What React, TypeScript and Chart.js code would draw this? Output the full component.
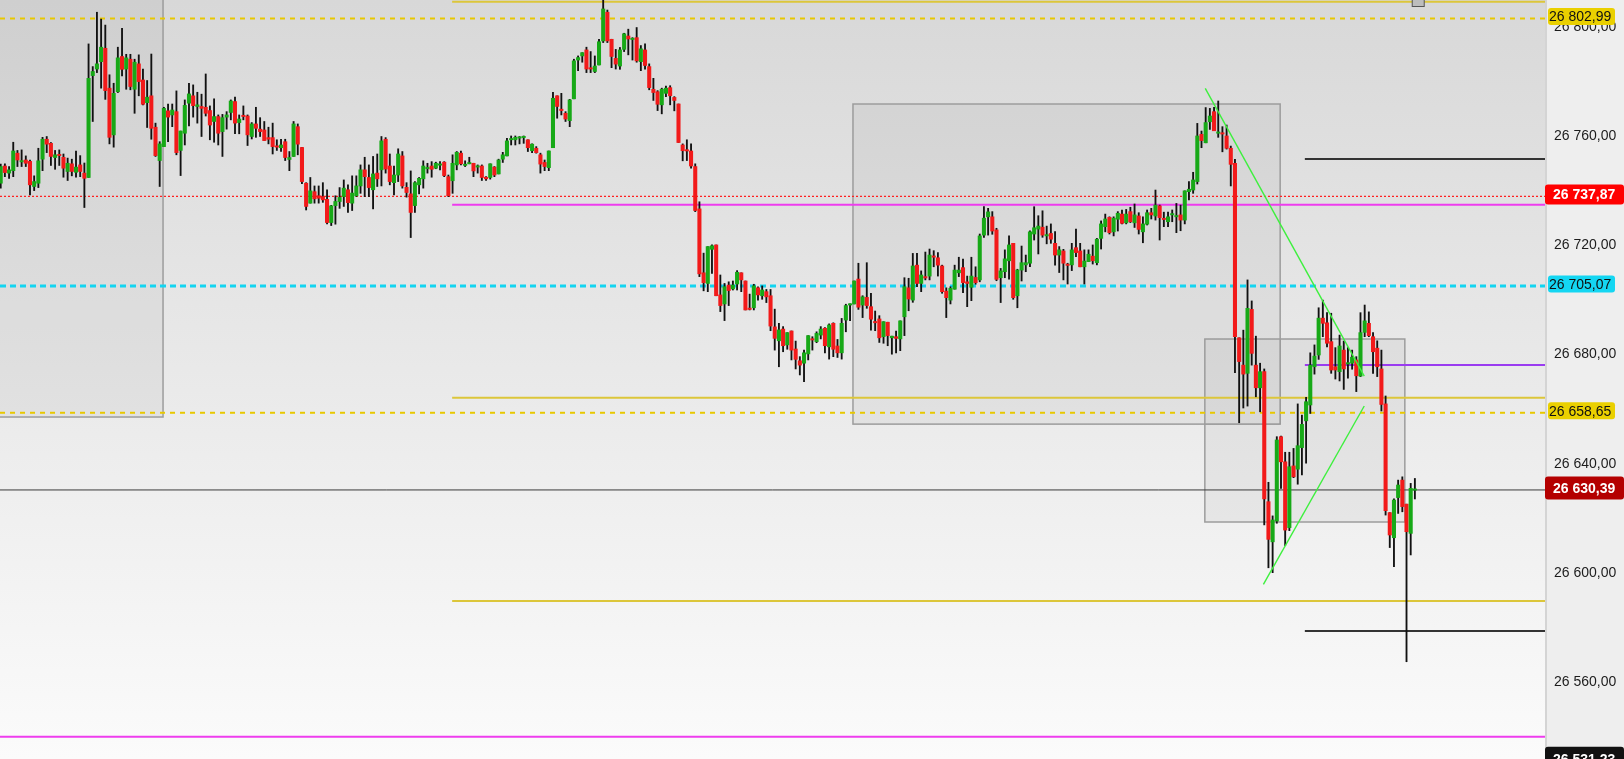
import React, { useEffect, useRef } from "react";
import { Chart, registerables } from "chart.js";
Chart.register(...registerables);

// ---------- candle data (index 0 .. 338) ----------
const opens = [
  26742.7, 26749.0, 26746.4, 26747.3, 26753.7, 26750.5, 26751.2, 26750.7, 26741.5, 26742.7,
  26751.5, 26758.8, 26757.3, 26752.1, 26753.1, 26752.2, 26747.0, 26749.8, 26746.7, 26749.4,
  26746.4, 26744.8, 26782.1, 26784.5, 26787.2, 26792.1, 26777.5, 26760.4, 26776.2, 26789.1,
  26784.5, 26788.1, 26777.1, 26786.4, 26780.5, 26772.2, 26774.7, 26763.2, 26751.0, 26756.1,
  26769.2, 26767.7, 26768.9, 26754.7, 26761.0, 26772.0, 26774.7, 26770.8, 26770.8, 26770.5,
  26769.3, 26765.3, 26767.1, 26761.6, 26766.9, 26768.6, 26772.6, 26764.9, 26767.3, 26767.3,
  26759.8, 26764.4, 26762.5, 26762.2, 26759.4, 26759.4, 26756.1, 26755.7, 26757.9, 26751.4,
  26752.5, 26763.4, 26755.8, 26742.7, 26735.4, 26739.6, 26738.1, 26737.8, 26736.8, 26728.3,
  26734.5, 26736.0, 26737.8, 26740.3, 26735.4, 26738.1, 26741.7, 26747.6, 26744.8, 26740.3,
  26746.4, 26747.6, 26758.8, 26749.0, 26742.9, 26745.7, 26752.7, 26741.2, 26738.8, 26734.5,
  26742.1, 26744.3, 26748.0, 26749.0, 26748.2, 26749.3, 26750.4, 26745.1, 26743.6, 26749.4,
  26753.7, 26749.2, 26749.8, 26750.0, 26748.6, 26749.0, 26744.9, 26744.8, 26748.6, 26746.1,
  26751.5, 26752.7, 26758.6, 26758.6, 26759.2, 26759.4, 26758.6, 26754.6, 26755.5, 26753.1,
  26750.3, 26748.4, 26755.7, 26774.7, 26769.8, 26768.3, 26765.6, 26773.6, 26787.8, 26789.3,
  26791.5, 26784.8, 26783.6, 26786.0, 26794.8, 26805.3, 26795.4, 26788.4, 26785.6, 26791.7,
  26796.6, 26795.3, 26796.0, 26787.2, 26791.5, 26785.4, 26777.1, 26776.2, 26771.4, 26775.6,
  26777.7, 26774.1, 26771.7, 26756.7, 26754.7, 26754.5, 26748.8, 26733.3, 26709.9, 26706.0,
  26718.5, 26720.1, 26701.8, 26698.5, 26705.4, 26704.0, 26705.8, 26709.9, 26706.9, 26696.9,
  26697.1, 26704.4, 26701.5, 26703.0, 26701.5, 26690.1, 26685.0, 26689.3, 26683.5, 26688.6,
  26682.0, 26677.7, 26676.8, 26680.2, 26685.5, 26684.7, 26687.1, 26689.6, 26682.8, 26691.4,
  26683.1, 26680.6, 26692.6, 26698.1, 26698.5, 26707.6, 26698.1, 26700.9, 26697.5, 26691.8,
  26693.0, 26686.5, 26691.8, 26686.1, 26686.5, 26685.7, 26693.8, 26704.4, 26699.9, 26712.7,
  26706.0, 26708.5, 26708.7, 26716.0, 26715.4, 26712.4, 26703.2, 26699.9, 26703.9, 26709.9,
  26711.8, 26706.6, 26704.6, 26708.2, 26707.3, 26723.7, 26730.4, 26730.4, 26725.6, 26708.1,
  26710.3, 26714.3, 26720.7, 26701.5, 26710.9, 26712.8, 26713.4, 26724.1, 26725.9, 26726.6,
  26723.4, 26724.3, 26720.7, 26716.4, 26717.9, 26712.8, 26712.8, 26719.1, 26717.9, 26712.1,
  26714.0, 26716.0, 26713.6, 26722.5, 26726.8, 26730.2, 26724.9, 26729.5, 26731.4, 26728.2,
  26732.3, 26728.2, 26730.7, 26724.9, 26727.7, 26731.9, 26730.7, 26734.4, 26729.7, 26728.6,
  26731.1, 26730.4, 26731.1, 26729.2, 26739.6, 26740.2, 26743.3, 26760.6, 26757.5, 26765.2,
  26768.9, 26761.0, 26761.0, 26760.0, 26755.5, 26750.0, 26686.1, 26676.1, 26673.1, 26696.5,
  26676.1, 26667.8, 26673.7, 26626.1, 26611.4, 26619.0, 26649.9, 26640.7, 26616.6, 26639.2,
  26638.0, 26645.9, 26655.7, 26661.5, 26675.5, 26679.8, 26693.3, 26691.6, 26684.7, 26675.5,
  26673.7, 26681.6, 26676.5, 26676.8, 26678.0, 26672.1, 26688.1, 26691.4, 26686.5, 26682.3,
  26674.7, 26661.9, 26622.1, 26612.9, 26627.6, 26634.0, 26625.2, 26614.5, 26630.3,
];
const highs = [
  26749.7, 26749.8, 26748.8, 26757.7, 26754.7, 26754.9, 26752.7, 26751.2, 26745.4, 26755.5,
  26759.5, 26759.8, 26757.6, 26754.7, 26754.9, 26753.4, 26751.9, 26751.5, 26754.5, 26752.8,
  26750.1, 26793.7, 26785.4, 26805.3, 26802.8, 26800.6, 26782.4, 26779.3, 26792.5, 26799.4,
  26789.9, 26789.9, 26788.1, 26789.7, 26784.5, 26780.3, 26790.0, 26764.7, 26757.9, 26770.5,
  26771.7, 26771.7, 26776.5, 26761.8, 26773.2, 26779.3, 26778.7, 26776.0, 26775.3, 26782.7,
  26771.0, 26773.6, 26767.7, 26767.9, 26768.9, 26773.2, 26774.2, 26767.7, 26771.0, 26767.7,
  26764.9, 26770.5, 26766.7, 26765.3, 26763.2, 26764.7, 26758.6, 26758.8, 26758.8, 26754.3,
  26765.3, 26764.4, 26755.8, 26742.9, 26744.8, 26741.7, 26741.7, 26742.9, 26740.3, 26734.6,
  26738.1, 26741.1, 26743.9, 26742.1, 26745.4, 26745.4, 26749.4, 26752.2, 26749.4, 26752.5,
  26753.4, 26759.8, 26759.4, 26753.4, 26749.0, 26755.3, 26754.3, 26742.9, 26747.2, 26743.3,
  26744.8, 26750.9, 26750.0, 26750.6, 26750.4, 26750.6, 26750.6, 26745.7, 26753.1, 26754.3,
  26754.5, 26750.9, 26752.2, 26750.0, 26749.4, 26749.4, 26745.1, 26749.8, 26748.8, 26751.5,
  26754.0, 26759.1, 26760.0, 26760.0, 26759.8, 26760.0, 26758.6, 26757.1, 26756.1, 26753.7,
  26751.2, 26754.5, 26776.0, 26774.7, 26775.6, 26768.9, 26773.4, 26788.1, 26789.3, 26790.5,
  26792.5, 26790.9, 26789.3, 26795.4, 26809.8, 26806.1, 26795.4, 26791.7, 26792.4, 26797.6,
  26799.1, 26796.0, 26799.7, 26793.1, 26793.7, 26786.4, 26781.1, 26776.6, 26777.5, 26778.3,
  26778.4, 26774.4, 26771.7, 26757.1, 26758.6, 26757.1, 26749.8, 26735.9, 26717.1, 26719.5,
  26720.1, 26720.1, 26709.1, 26706.0, 26706.6, 26706.9, 26710.7, 26709.9, 26706.9, 26702.1,
  26705.7, 26704.8, 26705.1, 26703.8, 26703.8, 26696.6, 26691.4, 26690.2, 26688.0, 26688.6,
  26684.9, 26679.2, 26681.6, 26686.9, 26686.5, 26688.3, 26690.2, 26689.8, 26691.2, 26691.6,
  26685.5, 26693.2, 26698.4, 26698.5, 26706.9, 26713.4, 26701.5, 26713.6, 26702.4, 26695.9,
  26694.2, 26692.0, 26691.8, 26686.7, 26688.6, 26692.3, 26708.1, 26707.9, 26717.0, 26717.0,
  26710.6, 26717.5, 26718.6, 26718.0, 26717.3, 26712.7, 26704.4, 26704.8, 26712.7, 26715.6,
  26714.9, 26708.7, 26715.6, 26712.1, 26724.1, 26734.1, 26733.5, 26732.3, 26726.2, 26711.5,
  26718.3, 26723.4, 26720.7, 26711.2, 26719.7, 26716.4, 26725.3, 26734.1, 26730.8, 26732.6,
  26727.0, 26727.8, 26725.0, 26719.5, 26718.5, 26713.4, 26720.7, 26725.9, 26720.7, 26718.3,
  26718.3, 26720.1, 26722.5, 26728.9, 26731.4, 26730.4, 26730.4, 26732.3, 26732.9, 26733.1,
  26733.9, 26735.1, 26731.9, 26730.4, 26732.9, 26733.5, 26740.2, 26734.7, 26732.1, 26732.1,
  26732.9, 26735.3, 26734.7, 26739.9, 26743.3, 26746.7, 26764.6, 26761.8, 26770.4, 26770.1,
  26770.5, 26772.8, 26763.4, 26764.0, 26756.3, 26751.4, 26686.1, 26688.9, 26707.3, 26699.6,
  26686.7, 26676.8, 26674.7, 26633.2, 26620.9, 26649.9, 26650.1, 26644.2, 26644.2, 26645.6,
  26661.9, 26657.8, 26664.3, 26680.6, 26683.5, 26697.1, 26699.9, 26695.3, 26695.1, 26682.5,
  26687.1, 26684.9, 26682.5, 26681.6, 26679.2, 26695.3, 26698.1, 26695.6, 26688.0, 26685.0,
  26681.6, 26664.8, 26622.1, 26627.1, 26634.0, 26635.2, 26625.2, 26632.8, 26634.6,
];
const lows = [
  26740.9, 26745.1, 26744.5, 26745.1, 26748.8, 26748.8, 26748.8, 26738.4, 26740.0, 26741.1,
  26747.3, 26753.9, 26749.2, 26747.8, 26749.2, 26744.9, 26743.7, 26745.4, 26744.9, 26745.1,
  26733.8, 26744.8, 26765.3, 26783.2, 26777.5, 26773.4, 26757.1, 26755.9, 26775.9, 26782.0,
  26777.1, 26776.9, 26768.3, 26774.7, 26771.4, 26763.1, 26758.8, 26752.5, 26741.5, 26756.1,
  26757.9, 26763.4, 26753.1, 26745.5, 26756.7, 26763.7, 26766.9, 26764.7, 26759.8, 26767.3,
  26758.6, 26757.7, 26756.7, 26752.5, 26762.5, 26765.9, 26760.8, 26760.8, 26765.9, 26756.5,
  26758.9, 26759.5, 26759.8, 26758.3, 26757.1, 26753.4, 26754.7, 26754.3, 26751.0, 26747.3,
  26752.5, 26753.1, 26742.5, 26732.9, 26735.4, 26735.4, 26735.4, 26735.7, 26727.8, 26727.2,
  26727.7, 26733.5, 26734.2, 26732.0, 26732.7, 26737.8, 26739.0, 26737.8, 26737.8, 26733.3,
  26741.5, 26741.7, 26746.4, 26742.1, 26738.4, 26743.3, 26740.9, 26737.6, 26722.8, 26732.0,
  26738.8, 26740.9, 26746.4, 26744.9, 26748.0, 26747.6, 26745.1, 26737.8, 26739.0, 26747.6,
  26749.4, 26748.8, 26749.8, 26745.1, 26746.4, 26743.7, 26743.7, 26744.2, 26745.1, 26746.1,
  26750.3, 26752.7, 26756.7, 26756.7, 26757.1, 26757.3, 26754.3, 26753.9, 26753.7, 26746.4,
  26747.3, 26747.3, 26755.7, 26766.5, 26767.7, 26765.3, 26763.4, 26773.6, 26783.9, 26787.0,
  26783.2, 26783.2, 26783.2, 26786.0, 26794.2, 26794.2, 26785.0, 26784.5, 26784.4, 26790.9,
  26789.7, 26787.8, 26787.0, 26783.9, 26784.5, 26776.9, 26773.0, 26769.3, 26768.1, 26774.4,
  26771.4, 26769.2, 26757.6, 26750.9, 26751.0, 26748.2, 26732.3, 26708.5, 26703.3, 26703.0,
  26709.7, 26701.5, 26695.7, 26692.4, 26697.9, 26703.6, 26703.6, 26703.0, 26696.3, 26696.3,
  26696.3, 26699.9, 26700.2, 26699.0, 26688.7, 26681.6, 26675.5, 26681.0, 26681.9, 26678.0,
  26674.7, 26672.5, 26670.0, 26678.0, 26681.6, 26684.3, 26685.7, 26680.6, 26678.3, 26679.2,
  26678.9, 26678.3, 26688.3, 26692.4, 26698.5, 26696.5, 26693.5, 26696.9, 26688.9, 26688.7,
  26684.4, 26684.1, 26683.2, 26680.1, 26680.6, 26681.4, 26686.9, 26696.0, 26699.1, 26704.8,
  26703.0, 26707.3, 26707.3, 26712.1, 26708.7, 26702.4, 26693.5, 26698.5, 26703.9, 26708.5,
  26702.6, 26697.5, 26699.7, 26705.7, 26706.6, 26722.9, 26723.7, 26724.0, 26707.0, 26699.0,
  26708.1, 26707.6, 26700.2, 26697.1, 26706.9, 26710.3, 26712.1, 26721.9, 26716.8, 26722.9,
  26720.5, 26720.7, 26712.7, 26710.0, 26707.3, 26705.8, 26710.7, 26715.8, 26712.1, 26705.8,
  26714.0, 26713.1, 26712.8, 26718.6, 26724.9, 26724.1, 26723.4, 26725.2, 26727.8, 26727.8,
  26728.3, 26726.5, 26724.1, 26720.9, 26727.4, 26729.6, 26729.2, 26721.9, 26726.8, 26726.8,
  26728.6, 26724.6, 26725.3, 26727.8, 26736.6, 26739.0, 26742.4, 26755.7, 26757.5, 26762.4,
  26761.9, 26759.5, 26754.2, 26755.2, 26741.7, 26673.3, 26655.0, 26660.4, 26661.1, 26676.1,
  26664.5, 26659.0, 26617.6, 26601.9, 26600.1, 26618.2, 26631.0, 26610.0, 26615.5, 26634.9,
  26632.5, 26635.9, 26640.2, 26658.4, 26672.8, 26678.2, 26686.5, 26682.8, 26673.1, 26671.0,
  26670.3, 26667.2, 26671.3, 26674.6, 26666.4, 26671.9, 26686.5, 26686.5, 26673.1, 26671.9,
  26659.3, 26621.2, 26609.3, 26602.3, 26621.8, 26622.4, 26567.5, 26606.6, 26627.1,
];
const closes = [
  26748.8, 26746.6, 26747.6, 26754.5, 26751.2, 26750.9, 26750.0, 26742.1, 26743.3, 26750.9,
  26758.8, 26757.0, 26752.5, 26753.1, 26752.8, 26748.2, 26750.0, 26747.0, 26748.6, 26747.0,
  26744.5, 26781.1, 26783.6, 26786.4, 26792.5, 26776.6, 26759.5, 26775.6, 26788.6, 26784.4,
  26788.6, 26778.1, 26787.0, 26779.9, 26771.6, 26774.2, 26762.8, 26752.8, 26757.1, 26770.1,
  26766.9, 26769.5, 26753.9, 26761.8, 26771.2, 26775.4, 26771.1, 26771.4, 26770.1, 26768.3,
  26764.0, 26767.1, 26761.0, 26766.7, 26767.7, 26772.8, 26764.7, 26766.2, 26767.1, 26760.4,
  26764.4, 26762.8, 26761.6, 26758.3, 26758.8, 26756.1, 26755.9, 26756.7, 26752.1, 26752.1,
  26764.4, 26757.0, 26743.3, 26734.2, 26739.9, 26737.0, 26737.2, 26736.6, 26728.3, 26734.4,
  26736.0, 26737.5, 26740.9, 26735.6, 26739.1, 26741.7, 26747.6, 26745.1, 26741.1, 26746.1,
  26744.3, 26758.2, 26747.9, 26743.3, 26745.7, 26753.4, 26741.7, 26739.3, 26732.0, 26742.9,
  26744.5, 26749.0, 26748.2, 26747.8, 26750.0, 26749.5, 26745.5, 26738.1, 26750.0, 26754.0,
  26749.8, 26749.4, 26750.0, 26747.2, 26748.8, 26744.8, 26744.3, 26749.8, 26745.7, 26751.2,
  26753.1, 26758.2, 26758.8, 26759.5, 26759.4, 26759.5, 26755.7, 26757.0, 26753.9, 26749.7,
  26748.8, 26754.5, 26773.8, 26770.8, 26769.3, 26766.2, 26773.2, 26787.5, 26788.7, 26790.5,
  26784.5, 26784.5, 26785.6, 26794.5, 26806.5, 26794.8, 26789.1, 26786.3, 26791.5, 26797.4,
  26795.5, 26795.5, 26787.5, 26791.9, 26785.8, 26777.7, 26775.9, 26771.6, 26777.1, 26777.5,
  26774.7, 26773.0, 26757.6, 26754.6, 26754.5, 26749.0, 26732.7, 26709.5, 26706.3, 26719.5,
  26719.8, 26701.5, 26697.9, 26704.8, 26703.4, 26705.4, 26710.1, 26707.3, 26696.3, 26696.5,
  26705.1, 26701.8, 26703.6, 26701.1, 26690.4, 26685.9, 26689.0, 26683.2, 26688.0, 26681.6,
  26678.2, 26676.1, 26680.6, 26686.9, 26685.3, 26687.7, 26689.3, 26683.2, 26690.8, 26681.9,
  26680.6, 26691.4, 26697.9, 26698.5, 26706.9, 26697.3, 26701.1, 26697.9, 26692.9, 26691.6,
  26686.1, 26692.0, 26686.9, 26686.7, 26685.9, 26692.3, 26704.8, 26700.3, 26712.4, 26706.0,
  26709.1, 26708.0, 26716.4, 26715.6, 26712.7, 26703.0, 26700.8, 26704.2, 26710.9, 26710.9,
  26706.3, 26706.0, 26708.7, 26706.3, 26723.4, 26729.9, 26732.2, 26725.2, 26707.5, 26710.6,
  26715.0, 26720.1, 26700.8, 26710.9, 26713.6, 26713.6, 26724.9, 26726.4, 26727.0, 26723.7,
  26723.7, 26722.2, 26716.4, 26718.3, 26713.4, 26712.6, 26718.3, 26717.3, 26712.1, 26714.2,
  26716.7, 26714.3, 26722.2, 26727.8, 26729.6, 26724.6, 26729.9, 26731.7, 26728.0, 26731.4,
  26728.6, 26731.1, 26725.8, 26727.8, 26731.9, 26731.1, 26734.7, 26730.1, 26729.4, 26730.4,
  26731.3, 26730.7, 26729.2, 26739.9, 26740.5, 26743.9, 26760.0, 26758.3, 26764.9, 26767.3,
  26761.9, 26761.2, 26760.7, 26755.5, 26749.6, 26686.5, 26677.4, 26672.8, 26696.9, 26680.4,
  26667.8, 26673.7, 26627.1, 26612.3, 26619.4, 26648.7, 26640.7, 26615.7, 26638.9, 26635.2,
  26646.6, 26654.4, 26662.7, 26676.1, 26679.4, 26693.3, 26691.4, 26684.1, 26674.3, 26674.3,
  26683.1, 26674.7, 26677.0, 26679.0, 26672.2, 26688.0, 26692.3, 26686.9, 26681.0, 26675.5,
  26661.7, 26622.8, 26613.9, 26626.7, 26632.2, 26624.3, 26615.1, 26631.0, 26630.4,
];

// ---------- axis ----------
const yTicks = [26560, 26600, 26640, 26680, 26720, 26760, 26800];
const X_MIN = -0.167;
const X_MAX = 369.1;
const Y_MIN = 26531.89;
const Y_MAX = 26809.78;

// ---------- horizontal levels ----------
const levelValues = [26809.16, 26802.99, 26751.56, 26737.87, 26734.83, 26705.07, 26676.14, 26664.17, 26658.65, 26630.39, 26589.74, 26578.75, 26540.05];
const levelFrom = [107.9, X_MIN, 311.7, X_MIN, 107.9, X_MIN, 311.7, 107.9, X_MIN, X_MIN, 107.9, 311.7, X_MIN];

// ---------- trend lines ----------
const trendX = [[287.9, 325.9], [301.8, 325.9]];
const trendY = [[26777.45, 26672.1], [26595.85, 26661.13]];

// ---------- rectangles ----------
const boxX = [[-2, 38.8], [203.7, 305.8], [287.8, 335.6]];
const boxY = [[26820, 26657.1], [26771.7, 26654.5], [26685.66, 26618.66]];

// ---------- price tags ----------
const tagValues = [26802.99, 26737.87, 26705.07, 26658.65, 26630.39, 26531.23];

const FONT = '"Liberation Sans", Arial, sans-serif';
const GREEN = "#17a917";
const RED = "#f21a1a";

function fmt(v: number) {
  const [i, d] = v.toFixed(2).split(".");
  return i.replace(/\B(?=(\d{3})+(?!\d))/g, " ") + "," + d;
}

const levelStyles = [
  { c: "#dcc63a", w: 2 },
  { c: "#e8c800", w: 2, d: [5, 5] },
  { c: "#333333", w: 2 },
  { c: "#ff2020", w: 1.3, d: [2, 2] },
  { c: "#ee3cee", w: 2 },
  { c: "#12d4f0", w: 3, d: [6, 4] },
  { c: "#9a3cf0", w: 2 },
  { c: "#dcc63a", w: 2 },
  { c: "#e8c800", w: 2, d: [5, 5] },
  { c: "#3a3a3a", w: 1 },
  { c: "#dcc63a", w: 2 },
  { c: "#333333", w: 2 },
  { c: "#ee3cee", w: 2 },
];

const tagStyles = [
  { bg: "#ead000", fg: "#111", bold: false, wide: false, h: 17 },
  { bg: "#ff0000", fg: "#fff", bold: true, wide: true, h: 20 },
  { bg: "#14d6f2", fg: "#111", bold: false, wide: false, h: 17 },
  { bg: "#ead000", fg: "#111", bold: false, wide: false, h: 17 },
  { bg: "#b40000", fg: "#fff", bold: true, wide: true, h: 23 },
  { bg: "#111111", fg: "#fff", bold: true, wide: true, h: 24 },
];

export default function App() {
  const ref = useRef<HTMLCanvasElement>(null);

  useEffect(() => {
    document.body.style.margin = "0";
    const canvas = ref.current;
    if (!canvas) return;

    const idx = opens.map((_, i) => i);
    const bodies = idx.map((i) => ({ x: i, y: [opens[i], closes[i]] }));
    const wicks = idx.map((i) => ({ x: i, y: [lows[i], highs[i]] }));
    const bodyColors = idx.map((i) => (closes[i] >= opens[i] ? GREEN : RED));

    const bgPlugin = {
      id: "bg",
      beforeDraw(chart: any) {
        const { ctx, chartArea, width, height } = chart;
        ctx.save();
        ctx.fillStyle = "#eeeeee";
        ctx.fillRect(0, 0, width, height);
        const g = ctx.createLinearGradient(0, chartArea.top, 0, chartArea.bottom);
        g.addColorStop(0, "#d8d8d8");
        g.addColorStop(1, "#fbfbfb");
        ctx.fillStyle = g;
        ctx.fillRect(chartArea.left, chartArea.top, chartArea.width, chartArea.height);
        ctx.fillStyle = "#d4d4d4";
        ctx.fillRect(chartArea.right, 0, 2, height);
        ctx.restore();
      },
    };

    const boxPlugin = {
      id: "boxes",
      beforeDatasetsDraw(chart: any) {
        const { ctx, chartArea, scales } = chart;
        const xs = scales.x;
        const ys = scales.y;
        ctx.save();
        ctx.beginPath();
        ctx.rect(chartArea.left, chartArea.top, chartArea.width, chartArea.height);
        ctx.clip();
        boxX.forEach(([a, b], k) => {
          const x1 = xs.getPixelForValue(a);
          const x2 = xs.getPixelForValue(b);
          const y1 = ys.getPixelForValue(boxY[k][0]);
          const y2 = ys.getPixelForValue(boxY[k][1]);
          ctx.fillStyle = "rgba(0,0,0,0.04)";
          ctx.fillRect(x1, y1, x2 - x1, y2 - y1);
          ctx.strokeStyle = "#9c9c9c";
          ctx.lineWidth = 1.5;
          ctx.strokeRect(x1, y1, x2 - x1, y2 - y1);
        });
        ctx.restore();
      },
    };

    const tagPlugin = {
      id: "tags",
      afterDraw(chart: any) {
        const { ctx, chartArea, scales, width } = chart;
        const ys = scales.y;
        const xs = scales.x;
        ctx.save();
        tagValues.forEach((v, k) => {
          const s = tagStyles[k];
          const cy = ys.getPixelForValue(v) - 2;
          const x0 = s.wide ? chartArea.right : chartArea.right + 3;
          const w = s.wide ? width - chartArea.right : 67;
          const r = 3;
          const top = cy - s.h / 2;
          ctx.fillStyle = s.bg;
          ctx.beginPath();
          ctx.moveTo(x0 + r, top);
          ctx.lineTo(x0 + w - r, top);
          ctx.quadraticCurveTo(x0 + w, top, x0 + w, top + r);
          ctx.lineTo(x0 + w, top + s.h - r);
          ctx.quadraticCurveTo(x0 + w, top + s.h, x0 + w - r, top + s.h);
          ctx.lineTo(x0 + r, top + s.h);
          ctx.quadraticCurveTo(x0, top + s.h, x0, top + s.h - r);
          ctx.lineTo(x0, top + r);
          ctx.quadraticCurveTo(x0, top, x0 + r, top);
          ctx.fill();
          ctx.fillStyle = s.fg;
          ctx.font = (s.bold ? "bold " : "") + "14px " + FONT;
          ctx.textBaseline = "middle";
          ctx.textAlign = "left";
          ctx.fillText(fmt(v), s.wide ? chartArea.right + 8 : chartArea.right + 4, cy + 1);
        });
        // small handle at the top of the last bar
        const hx = xs.getPixelForValue(idx.length - 0.2);
        ctx.fillStyle = "#bdbdbd";
        ctx.strokeStyle = "#555";
        ctx.lineWidth = 1;
        ctx.fillRect(hx - 6, -1, 12, 7.5);
        ctx.strokeRect(hx - 6, -1, 12, 7.5);
        ctx.restore();
      },
    };

    const lineDs = levelValues.map((v, k) => ({
      type: "line",
      data: [
        { x: levelFrom[k], y: v },
        { x: X_MAX, y: v },
      ],
      borderColor: levelStyles[k].c,
      borderWidth: levelStyles[k].w,
      borderDash: levelStyles[k].d || [],
      pointRadius: 0,
      fill: false,
      tension: 0,
    }));

    const trendDs = trendX.map((xx, k) => ({
      type: "line",
      data: [
        { x: xx[0], y: trendY[k][0] },
        { x: xx[1], y: trendY[k][1] },
      ],
      borderColor: "#3ef03e",
      borderWidth: 1.4,
      pointRadius: 0,
      fill: false,
      tension: 0,
    }));

    const chart = new Chart(canvas, {
      type: "bar",
      data: {
        datasets: [
          ...trendDs,
          {
            type: "bar",
            data: bodies,
            backgroundColor: bodyColors,
            borderWidth: 0,
            barThickness: 3.4,
            minBarLength: 1.3,
            grouped: false,
          },
          {
            type: "bar",
            data: wicks,
            backgroundColor: "#111111",
            borderWidth: 0,
            barThickness: 1.2,
            grouped: false,
          },
          ...lineDs,
        ] as any,
      },
      options: {
        animation: false,
        responsive: false,
        devicePixelRatio: 1,
        events: [],
        layout: { padding: 0 },
        plugins: { legend: { display: false }, tooltip: { enabled: false } },
        scales: {
          x: {
            type: "linear",
            display: false,
            min: X_MIN,
            max: X_MAX,
            offset: false,
          },
          y: {
            type: "linear",
            position: "right",
            min: Y_MIN,
            max: Y_MAX,
            grid: { display: false, drawTicks: false, tickLength: 0 },
            border: { display: false },
            ticks: {
              padding: 9,
              color: "#1c1c1c",
              font: { family: FONT, size: 14 },
              callback: (v: any) => fmt(Number(v)),
            },
            afterBuildTicks: (scale: any) => {
              scale.ticks = yTicks.map((v) => ({ value: v }));
            },
            afterFit: (scale: any) => {
              scale.width = 79;
              scale.paddingTop = 0;
              scale.paddingBottom = 0;
            },
          },
        },
      } as any,
      plugins: [bgPlugin, boxPlugin, tagPlugin],
    });

    return () => chart.destroy();
  }, []);

  return (
    <div style={{ width: 1624, height: 759 }}>
      <canvas ref={ref} width={1624} height={759} style={{ display: "block" }} />
    </div>
  );
}
